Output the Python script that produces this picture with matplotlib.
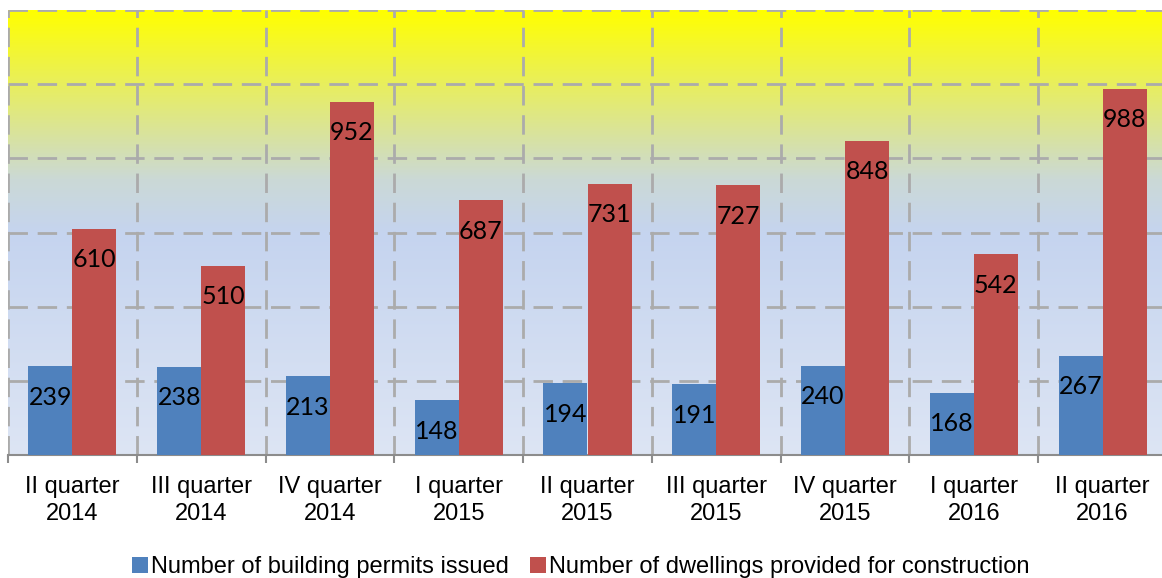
import numpy as np
import matplotlib
matplotlib.use("Agg")
import matplotlib.pyplot as plt
from matplotlib.colors import LinearSegmentedColormap

# дані
quarters = ["II quarter\n2014", "III quarter\n2014", "IV quarter\n2014",
            "I quarter\n2015", "II quarter\n2015", "III quarter\n2015",
            "IV quarter\n2015", "I quarter\n2016", "II quarter\n2016"]
permits = [239, 238, 213, 148, 194, 191, 240, 168, 267]
dwellings = [610, 510, 952, 687, 731, 727, 848, 542, 988]
series_names = ["Number of building permits issued",
                "Number of dwellings provided for construction"]

blue = "#4F81BD"
red = "#C0504D"

plt.rcParams['font.family'] = ['Liberation Sans', 'DejaVu Sans']

fig = plt.figure(figsize=(11.62, 5.78), dpi=100)
ax = fig.add_axes([8 / 1162, 1 - 455 / 578, 1159 / 1162, 445 / 578])

x = np.arange(len(quarters))
w = 0.342

# фон-градієнт
cmap = LinearSegmentedColormap.from_list(
    "bg", [(0.0, "#DDE5F4"), (0.5, "#C5D4EF"), (0.62, "#CBD9D6"), (1.0, "#FFFF00")])
grad = np.linspace(0, 1, 256).reshape(-1, 1)
ax.imshow(grad, cmap=cmap, aspect="auto", origin="lower",
          extent=[-0.5, len(quarters) - 0.5, 0, 1200], zorder=0)

b1 = ax.bar(x - w / 2, permits, w, color=blue, zorder=3, label=series_names[0])
b2 = ax.bar(x + w / 2, dwellings, w, color=red, zorder=3, label=series_names[1])

for bars, vals in ((b1, permits), (b2, dwellings)):
    for b, v in zip(bars, vals):
        ax.annotate(str(v), (b.get_x() + b.get_width() / 2, v),
                    xytext=(0, -31), textcoords="offset pixels",
                    ha="center", va="center", fontsize=18, family=["Lato", "DejaVu Sans"],
                    color="black", zorder=4)

ax.set_xlim(-0.5, len(quarters) - 0.5)
ax.set_ylim(0, 1200)

# сітка
for yv in range(200, 1201, 200):
    ax.axhline(yv, color="#ABABAB", lw=2, ls=(0, (7, 3.5)), zorder=1)
for xv in np.arange(-0.5, len(quarters) + 0.5, 1):
    ax.axvline(xv, color="#ABABAB", lw=2, ls=(0, (7, 3.5)), zorder=1)

for s in ("top", "right", "left"):
    ax.spines[s].set_visible(False)
ax.spines["bottom"].set_color("#8C8C8C")
ax.spines["bottom"].set_linewidth(1.5)
ax.set_yticks([])
ax.set_xticks(x)
ax.set_xticklabels(quarters, fontsize=17, linespacing=1.28)
ax.set_xticks(np.arange(-0.5, len(quarters) + 0.5, 1), minor=True)
ax.tick_params(axis="x", which="major", length=0, pad=15)
ax.tick_params(axis="x", which="minor", length=6, color="#8C8C8C", width=1.5)

fig.legend(loc="center", bbox_to_anchor=(0.5, 1 - 567 / 578), ncol=2, frameon=False,
           fontsize=17, handlelength=0.65, handleheight=0.65, handletextpad=0.15,
           columnspacing=0.9, borderpad=0)

fig.savefig("out.png", dpi=100)
